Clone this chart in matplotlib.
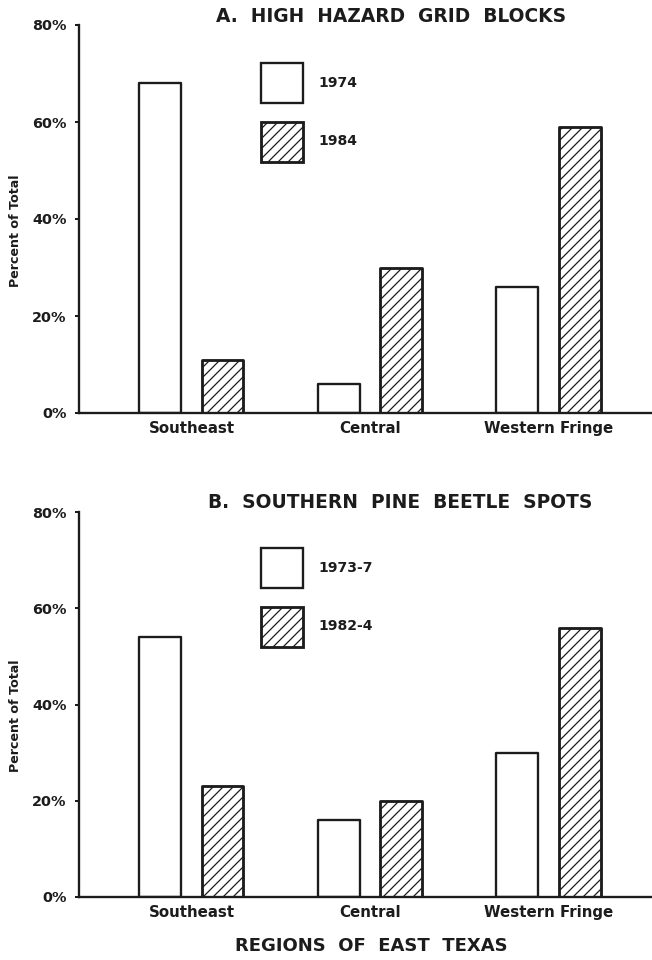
import matplotlib
matplotlib.use("Agg")
import matplotlib.pyplot as plt
import numpy as np

# Regions and percentages
regions = ["Southeast", "Central", "Western Fringe"]
hazard_1974 = [68, 6, 26]
hazard_1984 = [11, 30, 59]
spots_1973_7 = [54, 16, 30]
spots_1982_4 = [23, 20, 56]
y_ticks = [0, 20, 40, 60, 80]
y_tick_labels = ["0%", "20%", "40%", "60%", "80%"]

INK = "#1c1c1c"
W, H = 652, 960
DPI = 120

plt.rcParams["font.family"] = ["DejaVu Sans"]
plt.rcParams["font.weight"] = "bold"
plt.rcParams["hatch.linewidth"] = 0.75
plt.rcParams["hatch.color"] = INK

fig = plt.figure(figsize=(W / DPI, H / DPI), dpi=DPI)
fig.patch.set_facecolor("white")


def px_axes(left, top, right, bottom):
    return fig.add_axes([left / W, 1 - bottom / H, (right - left) / W, (bottom - top) / H])


def panel(ax, title, title_xy, first, second, labels, legend_top):
    x = np.arange(len(regions))
    off, width = 0.174, 0.235
    b1 = ax.bar(x - off, first, width, facecolor="white", edgecolor=INK,
                linewidth=1.4, label=labels[0], joinstyle="round")
    b2 = ax.bar(x + off, second, width, facecolor="white", edgecolor=INK,
                linewidth=1.7, hatch="////", label=labels[1], joinstyle="round")
    ax.set_xlim(-0.630, 2.580)
    ax.set_ylim(0, 80)
    ax.set_xticks(x)
    ax.set_xticklabels(regions, fontsize=9, fontweight="bold", color=INK)
    ax.set_yticks(y_ticks)
    ax.set_yticklabels(y_tick_labels, fontsize=8.6, fontweight="bold", color=INK)
    ax.tick_params(axis="x", length=0, pad=5)
    ax.tick_params(axis="y", length=2.5, width=1.2, color=INK, pad=5)
    for s in ("top", "right"):
        ax.spines[s].set_visible(False)
    for s in ("left", "bottom"):
        ax.spines[s].set_linewidth(1.4)
        ax.spines[s].set_color(INK)
    ax.set_ylabel("Percent of Total", fontsize=7.6, fontweight="bold", color=INK)
    ax.yaxis.set_label_coords(-0.100, 0.47)
    fig.text(title_xy[0] / W, 1 - title_xy[1] / H, title, fontsize=11.2,
             fontweight="bold", color=INK, ha="center", va="center")
    ax.legend(handles=[b1, b2], loc="upper left",
              bbox_to_anchor=(261 / W, 1 - legend_top / H),
              bbox_transform=fig.transFigure, frameon=False, borderpad=0,
              borderaxespad=0, handlelength=3.0, handleheight=4.0,
              labelspacing=1.35, handletextpad=1.1,
              prop={"size": 8.4, "weight": "bold"}, labelcolor=INK)


ax_a = px_axes(79, 25, 652, 413)
panel(ax_a, "A.  HIGH  HAZARD  GRID  BLOCKS", (391, 17),
      hazard_1974, hazard_1984, ["1974", "1984"], 63)

ax_b = px_axes(79, 512, 652, 897)
panel(ax_b, "B.  SOUTHERN  PINE  BEETLE  SPOTS", (400, 503),
      spots_1973_7, spots_1982_4, ["1973-7", "1982-4"], 548)

fig.text(371 / W, 1 - 946 / H, "REGIONS  OF  EAST  TEXAS", fontsize=10.8,
         fontweight="bold", color=INK, ha="center", va="center")

fig.savefig("out.png", dpi=DPI, facecolor="white")
